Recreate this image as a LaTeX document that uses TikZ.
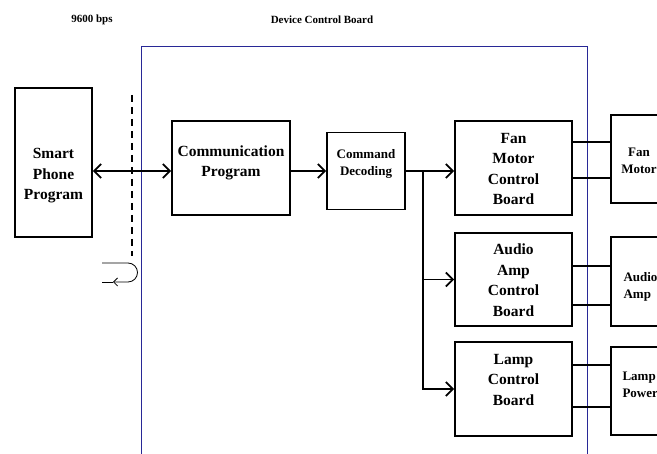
\documentclass[tikz,border=0pt]{standalone}
\usepackage{fontspec}
\setmainfont{Liberation Serif}
\usetikzlibrary{arrows.meta}

\definecolor{boardblue}{RGB}{40,40,150}

\begin{document}
\begin{tikzpicture}[x=1pt, y=-1pt,
    >={Straight Barb[length=7pt, width=14pt]},
    block/.style = {rectangle, draw, line width=1.8pt, inner sep=0pt},
    blocktext/.style = {align=center, font=\bfseries\fontsize{15.5}{20.5}\selectfont},
    smalltext/.style = {font=\bfseries\fontsize{13}{16.5}\selectfont},
    title/.style = {font=\bfseries\fontsize{11}{13}\selectfont},
    link/.style = {->, line width=1.8pt},
    wire/.style = {line width=1.8pt},
    board/.style = {draw=boardblue, line width=0.8pt},
    serial/.style = {line width=2pt, dash pattern=on 7pt off 5pt},
    turn/.style = {line width=0.8pt}]

  % Page.
  \useasboundingbox (0, 0) rectangle (657, 454);
  \clip (0, 0) rectangle (657, 454);

  % Titles.
  \node at (92, 20) [title, name=Rate] {9600 bps};
  \node at (322, 20) [title, name=BoardTitle] {Device Control Board};

  % Device control board outline.
  \draw [board] (141, 454) -- (141, 46) -- (587, 46) -- (587, 454);

  % Blocks.
  \node at (53.5, 162.5) [block, minimum width=77pt, minimum height=149pt, name=SmartPhone] {};
  \node at (231, 168) [block, minimum width=118pt, minimum height=94pt, name=Communication] {};
  \node at (366, 171) [block, minimum width=78pt, minimum height=77pt, name=CommandDecoding] {};
  \node at (513.5, 168) [block, minimum width=117pt, minimum height=94pt, name=FanBoard] {};
  \node at (513.5, 279.5) [block, minimum width=117pt, minimum height=93pt, name=AudioBoard] {};
  \node at (513.5, 389) [block, minimum width=117pt, minimum height=94pt, name=LampBoard] {};
  \node at (655.5, 159) [block, minimum width=89pt, minimum height=88pt, name=FanMotor] {};
  \node at (655.5, 281.5) [block, minimum width=89pt, minimum height=89pt, name=AudioAmp] {};
  \node at (655.5, 391) [block, minimum width=89pt, minimum height=88pt, name=LampPower] {};

  % Block texts.
  \node at (53.5, 176) [blocktext, name=SmartPhoneText] {Smart\\Phone\\Program};
  \node at (231, 163) [blocktext, name=CommunicationText] {Communication\\Program};
  \node at (366, 164) [smalltext, align=center, name=CommandDecodingText] {Command\\Decoding};
  \node at (513.5, 169) [blocktext, name=FanBoardText] {Fan\\Motor\\Control\\Board};
  \node at (513.5, 280) [blocktext, name=AudioBoardText] {Audio\\Amp\\Control\\Board};
  \node at (513.5, 380) [blocktext, name=LampBoardText] {Lamp\\Control\\Board};
  \node at (639, 161) [smalltext, align=center, name=FanMotorText] {Fan\\Motor};
  \node at (620, 287) [smalltext, align=left, anchor=west, name=AudioAmpText] {Audio\\Amp};
  \node at (619, 385) [smalltext, align=left, anchor=west, name=LampPowerText] {Lamp\\Power};

  % Serial link boundary and turn mark.
  \coordinate (LinkTop) at (132, 95);
  \coordinate (LinkBottom) at (132, 256);
  \coordinate (TurnStart) at (102, 263);
  \coordinate (TurnTip) at (113, 282);
  \coordinate (TurnEnd) at (102, 282);
  \draw [serial] (LinkTop) -- (LinkBottom);
  \draw [turn, -{Straight Barb[length=4pt, width=8pt]}]
             (TurnStart) -- ++(26, 0)
             arc [start angle=-90, end angle=90, radius=9.5]
             -- (TurnTip);
  \draw [turn] (TurnTip) -- (TurnEnd);

  % Branch point after decoding.
  \coordinate (Split) at (423, 171);

  % Data flow.
  \draw [link, <->] (SmartPhone.east |- Split)
             to (Communication.west |- Split);
  \draw [link] (Communication.east |- Split)
             to (CommandDecoding.west |- Split);
  \draw [link] (CommandDecoding.east |- Split)
             to (FanBoard.west |- Split);
  \draw [link] (Split)
             |- (LampBoard.west);
  \draw [link] (Split |- AudioBoard.west)
             to (AudioBoard.west);

  % Wires to the loads.
  \draw [wire] (FanBoard.east |- 0, 142) to (FanMotor.west |- 0, 142);
  \draw [wire] (FanBoard.east |- 0, 178) to (FanMotor.west |- 0, 178);
  \draw [wire] (AudioBoard.east |- 0, 266) to (AudioAmp.west |- 0, 266);
  \draw [wire] (AudioBoard.east |- 0, 305) to (AudioAmp.west |- 0, 305);
  \draw [wire] (LampBoard.east |- 0, 365) to (LampPower.west |- 0, 365);
  \draw [wire] (LampBoard.east |- 0, 407) to (LampPower.west |- 0, 407);
\end{tikzpicture}
\end{document}
